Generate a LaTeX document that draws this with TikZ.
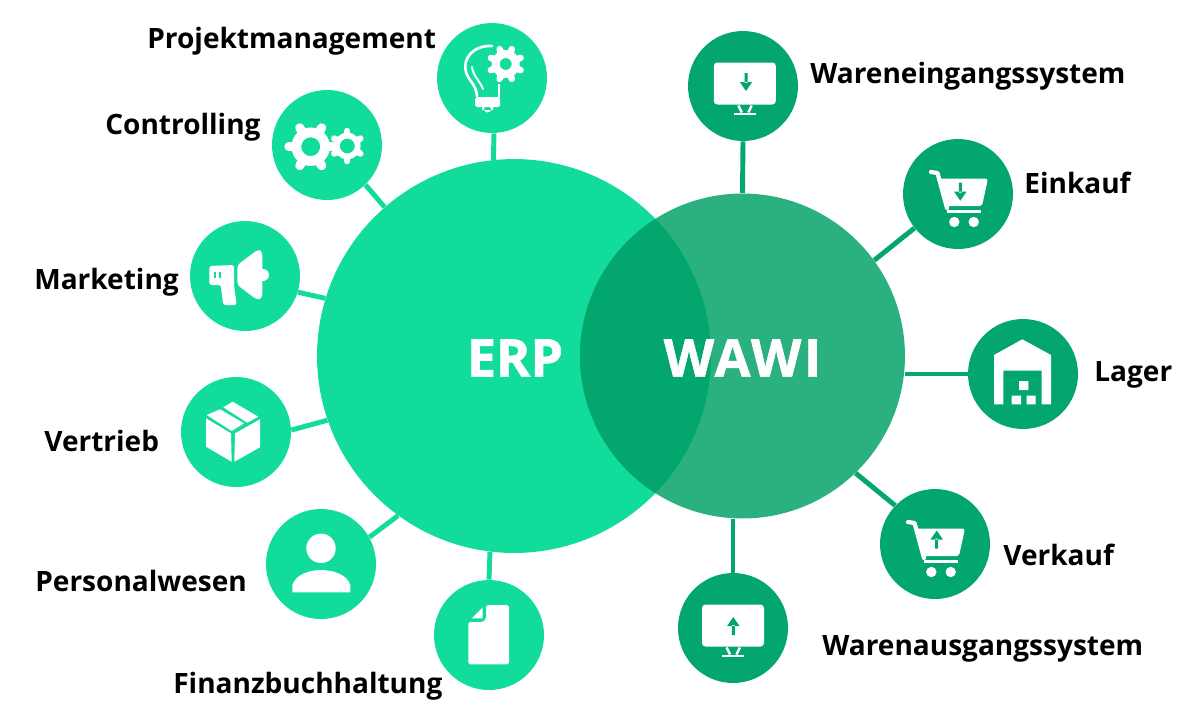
\documentclass[tikz,border=0pt]{standalone}
\usepackage{fontspec}
\setmainfont{Open Sans}
\usepackage{xcolor}
\definecolor{erpgreen}{HTML}{12DC9C}
\definecolor{wawigreen}{HTML}{2BB17F}
\definecolor{darkgreen}{HTML}{03A66C}
\newcommand{\gearicon}[6]{
	\begin{scope}[shift={(#1,#2)}]
		\fill[white,even odd rule] (0,0) circle (#3*0.74) (0,0) circle (#4);
		\foreach \a in {1,...,#5} {
			\draw[white,line width=#3*0.2pt,line cap=round] (#6+\a*360/#5:#3*0.7) -- (#6+\a*360/#5:#3*0.84);
		}
	\end{scope}
}
\tikzset{
	monitor/.pic={
		\fill[white,rounded corners=2pt] (-31,-21) rectangle (31,21);
		\draw[white,line width=1.4pt] (-6.5,22) -- (-3,29) (6.9,22) -- (3.5,29);
		\fill[white] (-11,29) rectangle (11,31.5);
	},
	warearrow/.pic={
		\fill[darkgreen] (-1.5,-9) rectangle (1.5,1) (-6.2,0) -- (6.2,0) -- (0,9) -- cycle;
	},
	cart/.pic={
		\draw[white,line width=2.4pt,line cap=round,line join=round] (-27,-22) -- (-20.5,-21) -- (-11,14);
		\fill[white,rounded corners=1.5pt] (-20,-15.5) -- (30,-15.5) -- (24,12) -- (-13,12) -- cycle;
		\fill[white] (-10.7,16) rectangle (22.7,19.3);
		\fill[white] (-3.7,28) circle (5.2) (15.7,28) circle (5.2);
	}
}
\begin{document}
\begin{tikzpicture}[x=0.02cm,y=-0.02cm]
	\tikzstyle{bigcircle}=[circle,inner sep=0pt]
	\tikzstyle{erpitem}=[circle,fill=erpgreen,inner sep=0pt,minimum size=2.2cm]
	\tikzstyle{wawiitem}=[circle,fill=darkgreen,inner sep=0pt,minimum size=2.2cm]
	\tikzstyle{itemlabel}=[anchor=base west,inner sep=0pt,font=\fontsize{15.95}{18}\selectfont\bfseries,text=black]
	\tikzstyle{centerlabel}=[inner sep=0pt,font=\fontsize{29.6}{32}\selectfont\bfseries\addfontfeature{FakeBold=1.2},text=white]
	\tikzstyle{erpline}=[erpgreen,line width=2.8pt]
	\tikzstyle{wawiline}=[darkgreen,line width=2.8pt]
	\useasboundingbox (0,0) rectangle (1200,718);

	\node[bigcircle,fill=erpgreen,minimum size=7.88cm] (erp) at (514,356) {};
	\node[bigcircle,fill=wawigreen,minimum size=6.5cm] (wawi) at (742.5,356) {};
	\begin{scope}
		\clip (514,356) circle (197);
		\fill[darkgreen] (742.5,356) circle (162.5);
	\end{scope}
	\node[centerlabel] (erplabel) at (515,358) {ERP};
	\node[centerlabel] (wawilabel) at (742.5,358) {\addfontfeature{LetterSpace=5}WAWI};

	\node[erpitem] (projekt) at (492,78) {};
	\node[erpitem] (controlling) at (327,145) {};
	\node[erpitem] (marketing) at (245,276) {};
	\node[erpitem] (vertrieb) at (236,432) {};
	\node[erpitem] (personal) at (321,564) {};
	\node[erpitem] (finanz) at (489,635) {};
	\node[wawiitem] (eingang) at (743,86) {};
	\node[wawiitem] (einkauf) at (958,194) {};
	\node[wawiitem] (lager) at (1023,374) {};
	\node[wawiitem] (verkauf) at (935,544) {};
	\node[wawiitem] (ausgang) at (733,628) {};

	\draw[erpline] (projekt.south) ++(2,0) -- (erp.96);
	\draw[erpline] (controlling.314) -- (erp.131);
	\draw[erpline] (marketing.343) -- (erp.163);
	\draw[erpline] (vertrieb.2) -- (erp.199);
	\draw[erpline] (personal.29) -- (erp.234);
	\draw[erpline] (finanz.north) -- (erp.263);
	\draw[wawiline] (eingang.south) -- (wawi.north);
	\draw[wawiline] (einkauf.218) -- (wawi.36);
	\draw[wawiline] (lager.west) -- (lager.west -| wawi.east);
	\draw[wawiline] (verkauf.136) -- (wawi.314);
	\draw[wawiline] (ausgang.north) -- (ausgang.north |- wawi.south);

	\node[itemlabel] (projektlabel) at (147,48) {Projektmanagement};
	\node[itemlabel] (controllinglabel) at (105,134) {Controlling};
	\node[itemlabel] (marketinglabel) at (34,289) {Marketing};
	\node[itemlabel] (vertrieblabel) at (44,451) {Vertrieb};
	\node[itemlabel] (personallabel) at (35,591) {Personalwesen};
	\node[itemlabel] (finanzlabel) at (173,693) {Finanzbuchhaltung};
	\node[itemlabel] (einganglabel) at (810,83) {Wareneingangssystem};
	\node[itemlabel] (einkauflabel) at (1024,193) {Einkauf};
	\node[itemlabel] (lagerlabel) at (1094,381) {Lager};
	\node[itemlabel] (verkauflabel) at (1003,565) {Verkauf};
	\node[itemlabel] (ausganglabel) at (822,655) {Warenausgangssystem};

	\gearicon{505.7}{64}{19}{6}{8}{22.5}
	\draw[white,line width=1.5pt,line cap=round] (492,46) .. controls (474,45) and (462,58) .. (466,72) .. controls (468,80) and (476,84) .. (477,96);
	\draw[white,line width=1.1pt,line cap=round] (472,67) .. controls (473,76) and (480,81) .. (483,89);
	\draw[white,line width=1.5pt] (499,84) -- (499,98);
	\fill[white,rounded corners=1pt] (475,97) rectangle (500,107);
	\fill[white] (482,106) rectangle (493,110) (487.5,109) circle (3.5);

	\gearicon{310.7}{146.7}{26}{9.5}{6}{0}
	\gearicon{347.3}{146}{18}{7.5}{6}{30}

	\fill[white,rounded corners=2pt] (237.3,265) -- (258.3,249.3) -- (262.3,251.7) -- (262.3,298) -- (257.3,300) -- (237.3,285) -- cycle;
	\fill[white] (263,275) circle (6);
	\fill[white,rounded corners=1pt] (209.3,266) -- (234,265) -- (234,285) -- (236.7,305) -- (223.3,305) -- (220.7,285) -- (209.3,285) -- cycle;
	\draw[erpgreen,line width=0.7pt] (215,271.7) -- (215,278) (220,271.7) -- (220,278);

	\fill[white] (206.7,415) -- (220,409.3) -- (244,423.3) -- (231.7,431) -- cycle;
	\fill[white] (223.3,407.3) -- (232.7,401.7) -- (258.3,416.7) -- (247.3,422.7) -- cycle;
	\fill[white] (206,418.3) -- (231,433.3) -- (231.7,461.7) -- (206,446.7) -- cycle;
	\fill[white] (235,433.3) -- (260,419.3) -- (260,447.3) -- (234.3,461.7) -- cycle;

	\fill[white] (321,548.3) circle (14.7);
	\fill[white] (292.3,592.3) -- (292.3,585) .. controls (296,574) and (310,570) .. (321,570) .. controls (332,570) and (347,574) .. (350.3,585) -- (350.3,592.3) -- cycle;

	\fill[white,rounded corners=1pt] (486,605) -- (509,605) -- (509,664.3) -- (468.3,664.3) -- (468.3,622) -- (483,622) -- (486,619) -- cycle;
	\fill[white] (482.7,607.3) -- (482.7,618.3) -- (471.7,618.3) -- cycle;

	\pic at (744.8,83.5) {monitor};
	\pic at (746,82) {warearrow};
	\pic at (733,625.5) {monitor};
	\pic[yscale=-1] at (733.3,626) {warearrow};

	\pic at (958,194) {cart};
	\pic at (960.3,191.7) {warearrow};
	\pic at (935,544) {cart};
	\pic[yscale=-1] at (936.7,539.5) {warearrow};

	\fill[white] (994,355) -- (1022.3,339.3) -- (1051,355) -- (1051,404.3) -- (1041.7,404.3) -- (1041.7,370.7) -- (1003.3,370.7) -- (1003.3,404.3) -- (994,404.3) -- cycle;
	\fill[white] (1019,381) rectangle (1028.3,390) (1011.7,395.7) rectangle (1021,404.3) (1026.7,395.7) rectangle (1035.7,404.3);
\end{tikzpicture}
\end{document}
